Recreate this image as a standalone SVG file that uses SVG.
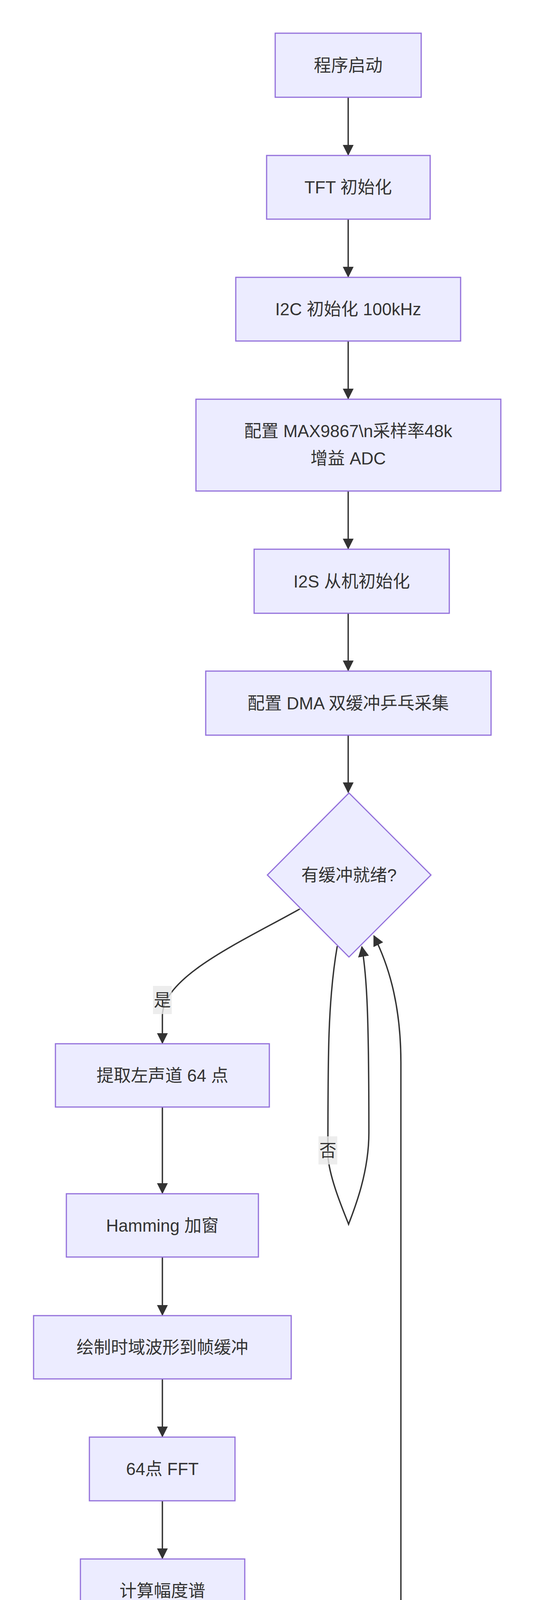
<svg xmlns="http://www.w3.org/2000/svg" width="1368" height="5176" viewBox="0 0 1368 5176">
<style>
.n{fill:#ECECFF;stroke:#9370DB;stroke-width:3}
.t{font-family:"Liberation Sans","Noto Sans CJK SC",sans-serif;font-size:44px;fill:#333;text-anchor:middle;dominant-baseline:central}
.e{fill:none;stroke:#333;stroke-width:3.5}
.lb{fill:#e8e8e8;opacity:0.8}
</style>
<defs><marker id="a" viewBox="0 0 10 10" refX="9" refY="5" markerWidth="7" markerHeight="7" markerUnits="userSpaceOnUse" orient="auto"><path d="M0,0L10,5L0,10z" fill="#333"/></marker>
<marker id="b" viewBox="0 0 10 10" refX="9" refY="5" markerWidth="28" markerHeight="28" markerUnits="userSpaceOnUse" orient="auto"><path d="M0,0L10,5L0,10z" fill="#333"/></marker></defs>
<rect width="1368" height="5176" fill="#fff"/>
<g id="edges">
<path class="e" marker-end="url(#b)" d="M892 249V396"/>
<path class="e" marker-end="url(#b)" d="M892 561V708"/>
<path class="e" marker-end="url(#b)" d="M892 873V1020"/>
<path class="e" marker-end="url(#b)" d="M892 1257V1404"/>
<path class="e" marker-end="url(#b)" d="M892 1570V1716"/>
<path class="e" marker-end="url(#b)" d="M892 1882V2028"/>
<path class="e" marker-end="url(#b)" d="M768 2327C620 2410 416 2500 416 2600V2670"/>
<path class="e" marker-end="url(#b)" d="M864 2422C840 2560 840 2700 840 2960C845 3020 880 3100 893 3134C910 3090 945 3000 945 2900C945 2600 940 2500 927 2424"/>
<path class="e" marker-end="url(#b)" d="M416 2835V3054"/>
<path class="e" marker-end="url(#b)" d="M416 3219V3366"/>
<path class="e" marker-end="url(#b)" d="M416 3531V3677"/>
<path class="e" marker-end="url(#b)" d="M416 3843V3989"/>
<path class="e" marker-end="url(#b)" d="M416 4154V4300"/>
<path class="e" marker-end="url(#b)" d="M416 4466V4613"/>
<path class="e" marker-end="url(#b)" d="M416 4778C416 4840 480 4870 556 4925"/>
<path class="e" marker-end="url(#b)" d="M886 4924C990 4880 1027 4840 1027 4700V2720C1027 2560 990 2460 958 2396"/>
<rect class="lb" x="392" y="2524" width="48" height="72"/>
<text class="t" x="416" y="2560">是</text>
<rect class="lb" x="816" y="2909" width="48" height="72"/>
<text class="t" x="840" y="2945">否</text>
</g>
<g id="n1"><rect class="n" x="705" y="85" width="374" height="164"/><text class="t" x="892" y="167">程序启动</text></g>
<g id="n2"><rect class="n" x="683" y="398" width="419" height="163"/><text class="t" x="892" y="479">TFT 初始化</text></g>
<g id="n3"><rect class="n" x="604" y="710" width="576" height="163"/><text class="t" x="892" y="791">I2C 初始化 100kHz</text></g>
<g id="n4"><rect class="n" x="502" y="1022" width="781" height="235"/><text class="t" x="892" y="1103">配置 MAX9867\n采样率48k</text><text class="t" x="892" y="1173">增益 ADC</text></g>
<g id="n5"><rect class="n" x="651" y="1406" width="500" height="164"/><text class="t" x="901" y="1488">I2S 从机初始化</text></g>
<g id="n6"><rect class="n" x="527" y="1718" width="731" height="164"/><text class="t" x="892" y="1800">配置 DMA 双缓冲乒乓采集</text></g>
<g id="d"><polygon class="n" points="894,2030 1104,2240 894,2450 685,2240"/><text class="t" x="894" y="2240">有缓冲就绪?</text></g>
<g id="n7"><rect class="n" x="142" y="2672" width="548" height="162"/><text class="t" x="416" y="2753">提取左声道 64 点</text></g>
<g id="n8"><rect class="n" x="170" y="3056" width="492" height="162"/><text class="t" x="416" y="3137">Hamming 加窗</text></g>
<g id="n9"><rect class="n" x="86" y="3368" width="660" height="162"/><text class="t" x="416" y="3449">绘制时域波形到帧缓冲</text></g>
<g id="n10"><rect class="n" x="229" y="3679" width="373" height="163"/><text class="t" x="416" y="3760">64点 FFT</text></g>
<g id="n11"><rect class="n" x="206" y="3991" width="421" height="162"/><text class="t" x="416" y="4072">计算幅度谱</text></g>
<g id="n12"><rect class="n" x="110" y="4302" width="612" height="163"/><text class="t" x="416" y="4383">绘制频谱柱到帧缓冲</text></g>
<g id="n13"><rect class="n" x="178" y="4615" width="476" height="162"/><text class="t" x="416" y="4696">叠加 FPS 文字</text></g>
<g id="n14"><rect class="n" x="499" y="4927" width="469" height="161"/><text class="t" x="733" y="5008">整帧写屏 TFT</text></g>
</svg>
